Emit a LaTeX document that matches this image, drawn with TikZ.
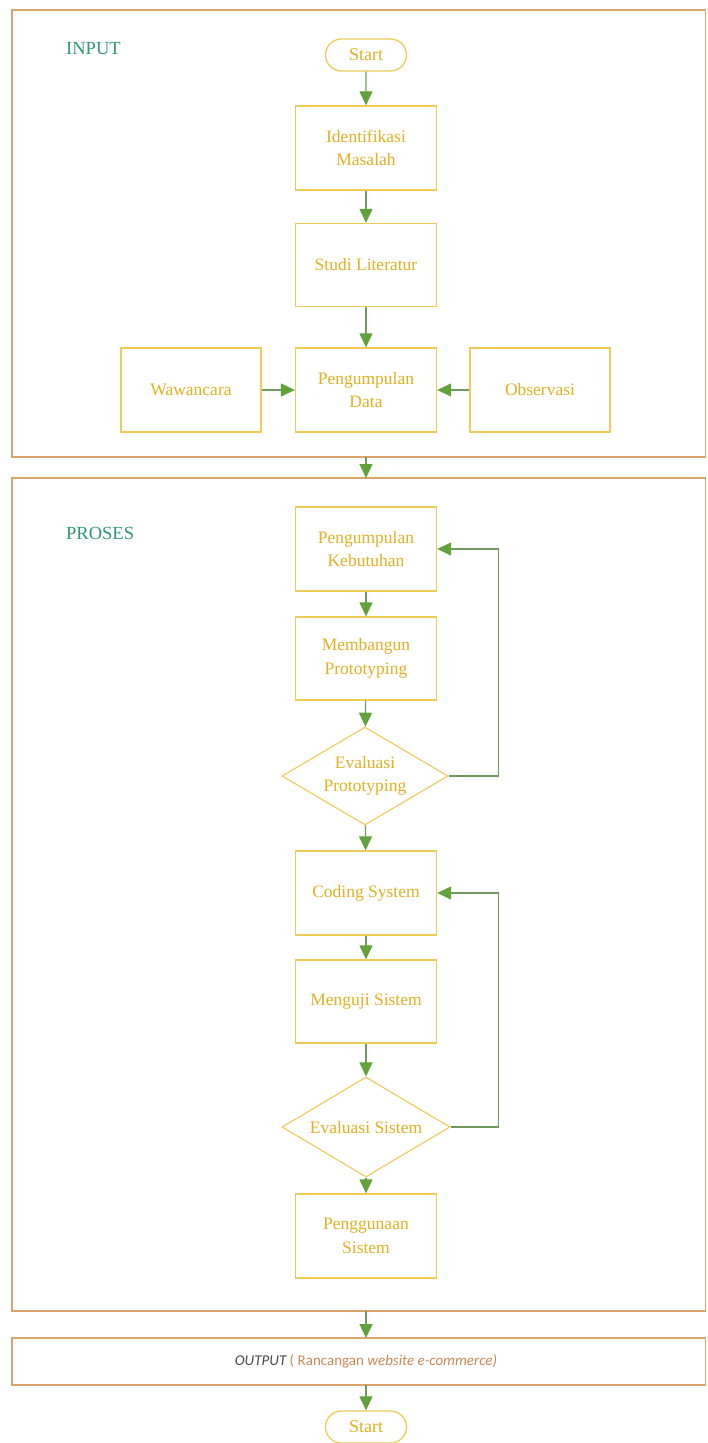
\documentclass[tikz,border=0pt]{standalone}
\usepackage{fontspec}
\setmainfont{Liberation Serif}
\newfontfamily\calibfont{Carlito}
\usetikzlibrary{shapes.geometric,shapes.misc,arrows.meta}
\definecolor{framec}{HTML}{D9A36A}
\definecolor{boxc}{HTML}{EDCB58}
\definecolor{txtc}{HTML}{E2B022}
\definecolor{arrl}{HTML}{6F9A5C}
\definecolor{arrh}{HTML}{62A23B}
\definecolor{lblc}{HTML}{2E9B6E}
\definecolor{outg}{HTML}{4A4A4A}
\definecolor{outo}{HTML}{C98A55}
\tikzset{
  frame/.style={draw=framec, line width=1.4pt},
  proc/.style={rectangle, draw=boxc, line width=1.3pt, minimum width=141pt, minimum height=84pt,
    text=txtc, align=center, inner sep=2pt, font=\fontsize{17.5}{23.5}\selectfont},
  term/.style={rounded rectangle, draw=boxc, line width=1.3pt, minimum width=85pt, minimum height=32pt,
    text=txtc, inner sep=2pt, font=\fontsize{18}{21}\selectfont},
  decis/.style={diamond, draw=boxc, line width=1.1pt, aspect=1.7, inner sep=0pt,
    text=txtc, align=center, font=\fontsize{17.5}{23.5}\selectfont},
  arr/.style={draw=arrl, line width=1.2pt, -{Triangle[length=14pt,width=13pt,color=arrh]}},
  seclabel/.style={text=lblc, font=\fontsize{18.5}{21}\selectfont, inner sep=0pt, anchor=west}
}
\begin{document}
\begin{tikzpicture}[x=1pt,y=-1pt]
\useasboundingbox[fill=white] (0,0) rectangle (707,1443);

% frames
\draw[frame] (12,10) rectangle (705.5,457);
\draw[frame] (12,478) rectangle (705.5,1311);
\draw[frame] (12,1338) rectangle (705.5,1385);
\coordinate (f1b) at (366,457);
\coordinate (f2t) at (366,478);
\coordinate (f2b) at (366,1311);
\coordinate (f3t) at (366,1338);
\coordinate (f3b) at (366,1385);

\node[seclabel] (inlbl) at (66,49) {INPUT};
\node[seclabel] (prlbl) at (66,533) {PROSES};

% INPUT nodes
\node[term] (start) at (366,55) {Start};
\node[proc] (ident) at (366,148) {Identifikasi\\Masalah};
\node[proc, minimum height=83pt] (studi) at (366,265) {Studi Literatur};
\node[proc] (peng) at (366,390) {Pengumpulan\\Data};
\node[proc, minimum width=140pt] (waw) at (191,390) {Wawancara};
\node[proc, minimum width=140pt] (obs) at (540,390) {Observasi};

% PROSES nodes
\node[proc] (kebut) at (366,549) {Pengumpulan\\Kebutuhan};
\node[proc, minimum height=83pt] (memb) at (366,658.5) {Membangun\\Prototyping};
\node[decis, minimum width=166pt, minimum height=98pt] (evp) at (365,776) {Evaluasi\\Prototyping};
\node[proc] (coding) at (366,893) {Coding System};
\node[proc, minimum height=83pt] (uji) at (366,1001.5) {Menguji Sistem};
\node[decis, minimum width=168pt, minimum height=100pt] (evs) at (366,1127) {Evaluasi Sistem};
\node[proc] (pengg) at (366,1236) {Penggunaan\\Sistem};

% OUTPUT
\node[inner sep=0pt, font=\calibfont\fontsize{15}{18}\selectfont] (outtxt) at (366,1361.5)
  {\textcolor{outg}{\itshape OUTPUT} \textcolor{outo}{( Rancangan \itshape website e-commerce)}};
\node[term] (end) at (366,1427) {Start};

% connectors
\draw[arr] (start) -- (ident);
\draw[arr] (ident) -- (studi);
\draw[arr] (studi) -- (peng);
\draw[arr] (waw) -- (peng);
\draw[arr] (obs) -- (peng);
\draw[arr] (f1b) -- (f2t);
\draw[arr] (kebut) -- (memb);
\draw[arr] (memb) -- (evp);
\draw[arr] (evp.east) -- ++(50,0) |- (kebut.east);
\draw[arr] (evp) -- (coding);
\draw[arr] (coding) -- (uji);
\draw[arr] (uji) -- (evs);
\draw[arr] (evs.east) -- ++(48,0) |- (coding.east);
\draw[arr] (evs) -- (pengg);
\draw[arr] (f2b) -- (f3t);
\draw[arr] (f3b) -- (end);
\end{tikzpicture}
\end{document}
